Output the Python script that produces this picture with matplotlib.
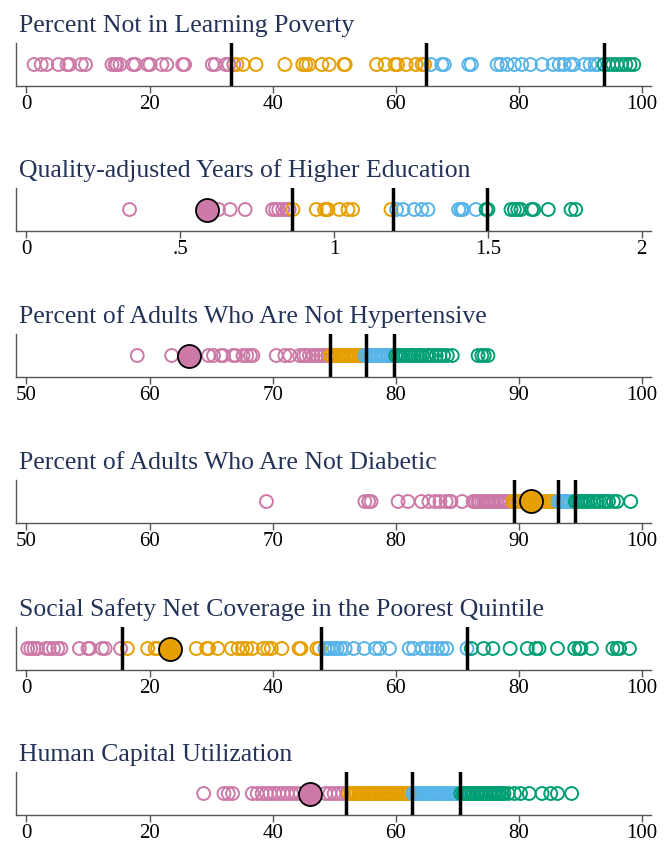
import matplotlib
matplotlib.use("Agg")
import matplotlib.pyplot as plt
import numpy as np

PINK, ORANGE, BLUE, GREEN = "#CC79A7", "#E69F00", "#56B4E9", "#009E73"
TITLE_COLOR = "#233257"

titles = [
    "Percent Not in Learning Poverty",
    "Quality-adjusted Years of Higher Education",
    "Percent of Adults Who Are Not Hypertensive",
    "Percent of Adults Who Are Not Diabetic",
    "Social Safety Net Coverage in the Poorest Quintile",
    "Human Capital Utilization",
]

# ---- Panel 1: Learning poverty
p1_pink = [1.25, 2.4, 3.3, 5.2, 6.6, 7.0, 8.9, 9.6, 13.9, 14.4, 14.7, 15.2, 17.3, 17.7,
           19.7, 20.1, 22.0, 22.8, 25.4, 25.7, 30.2, 30.7, 32.4, 32.9, 33.7]
p1_orange = [34.2, 35.2, 37.3, 42.0, 44.9, 45.4, 45.9, 48.0, 49.2, 51.6, 51.8, 56.9, 58.3,
             59.9, 60.3, 61.7, 63.3, 64.3, 64.7]
p1_blue = [65.7, 67.5, 67.9, 71.9, 72.3, 76.5, 77.1, 78.1, 79.3, 80.5, 81.9, 83.8, 85.6,
           86.6, 87.4, 88.4, 88.9, 90.7, 91.6, 92.4, 92.9]
p1_green = [93.9, 94.6, 95.3, 96.0, 96.7, 97.4, 98.1, 98.7]
p1_lines = [33.3, 65.0, 93.8]
p1_highlight = None

# ---- Panel 2: Quality-adjusted years of higher education
p2_pink = [0.335, 0.624, 0.662, 0.711, 0.80, 0.81, 0.82, 0.833, 0.847, 0.854]
p2_orange = [0.866, 0.942, 0.969, 0.976, 0.98, 1.017, 1.045, 1.06, 1.185]
p2_blue = [1.203, 1.224, 1.261, 1.285, 1.305, 1.405, 1.413, 1.419, 1.461]
p2_green = [1.494, 1.50, 1.575, 1.586, 1.597, 1.607, 1.642, 1.649, 1.696, 1.77, 1.785]
p2_lines = [0.864, 1.193, 1.497]
p2_highlight = (0.587, PINK)

# ---- Panel 3: Not hypertensive
p3_pink = [59.0, 61.8, 64.8, 65.2, 65.8, 66.0, 66.8, 67.0, 67.6, 67.9, 68.2, 68.4, 70.3,
           71.0, 71.4, 72.2, 72.5, 72.7, 73.0, 73.3, 73.6, 73.9, 74.2, 74.5]
p3_orange = [74.7, 74.8, 75.0, 75.1, 75.3, 75.5, 75.6, 75.8, 76.0, 76.1, 76.3, 76.5,
             76.6, 76.8, 77.0, 77.1, 77.3, 77.4]
p3_blue = [77.5, 77.6, 77.8, 77.9, 78.1, 78.3, 78.4, 78.6, 78.8, 78.9, 79.1, 79.3,
           79.4, 79.6, 79.8]
p3_green = [80.0, 80.2, 80.4, 80.6, 80.8, 81.1, 81.3, 81.5, 81.8, 82.0, 82.2, 82.5, 82.7,
            83.0, 83.3, 83.6, 83.9, 84.2, 84.6, 86.7, 87.0, 87.2, 87.5]
p3_lines = [74.7, 77.6, 79.9]
p3_highlight = (63.2, PINK)

# ---- Panel 4: Not diabetic
p4_pink = [69.5, 77.5, 77.8, 78.0, 80.2, 81.0, 82.1, 82.7, 83.2, 83.6, 84.1, 84.4, 84.5,
           85.4, 86.3, 86.5, 86.7, 86.8, 87.0, 87.2, 87.4, 87.6, 87.8, 88.0, 88.2, 88.4,
           88.6, 88.8, 89.0, 89.2]
p4_orange = [89.5, 89.7, 89.9, 90.1, 90.4, 90.6, 91.1, 91.4, 91.6, 91.8, 92.0, 92.2,
             92.4, 92.6, 92.8, 93.0]
p4_blue = [93.2, 93.4, 93.5, 93.7, 93.9, 94.0, 94.2, 94.4]
p4_green = [94.6, 94.8, 95.0, 95.2, 95.4, 95.6, 95.8, 96.1, 96.4, 96.6, 96.9, 97.1, 97.3,
            97.7, 98.0, 99.1]
p4_lines = [89.6, 93.2, 94.6]
p4_highlight = (91.0, ORANGE)

# ---- Panel 5: Social safety net coverage
p5_pink = [0.2, 0.7, 1.25, 1.8, 3.2, 3.7, 4.4, 5.1, 5.6, 8.6, 10.0, 10.3, 12.3, 12.8, 15.3]
p5_orange = [16.4, 19.7, 20.9, 21.3, 27.6, 29.3, 29.6, 31.1, 33.3, 34.4, 35.1, 35.8, 36.7,
             38.5, 39.2, 39.8, 41.5, 44.3, 44.6, 47.2, 47.6]
p5_blue = [48.5, 49.0, 49.5, 50.0, 50.5, 51.1, 51.8, 53.2, 54.9, 56.7, 57.4, 59.0, 62.2,
           62.9, 64.3, 65.0, 65.9, 66.8, 67.6, 68.3, 71.6]
p5_green = [72.3, 74.3, 75.8, 78.6, 81.4, 82.8, 83.3, 86.3, 89.1, 89.8, 90.1, 91.8, 95.3,
            96.0, 96.4, 98.0]
p5_lines = [15.5, 47.8, 71.6]
p5_highlight = (23.3, ORANGE)

# ---- Panel 6: Human capital utilization
p6_pink = [28.8, 32.1, 32.8, 33.5, 36.7, 37.5, 38.3, 39.0, 39.6, 40.3, 41.0, 41.7, 42.4,
           43.1, 43.8, 44.5, 48.6, 49.3, 50.0, 50.7, 51.4, 52.1]
p6_orange = [52.4, 52.8, 53.2, 53.6, 54.0, 54.3, 54.7, 55.1, 55.5, 55.9, 56.3, 56.6,
             57.0, 57.4, 57.8, 58.2, 58.6, 59.0, 59.3, 59.7, 60.1, 60.5, 60.9, 61.3,
             61.6, 62.0, 62.3]
p6_blue = [62.8, 63.2, 63.5, 63.9, 64.3, 64.6, 65.0, 65.4, 65.7, 66.1, 66.5, 66.8, 67.2,
           67.6, 67.9, 68.3, 68.7, 69.0, 69.4, 69.8, 70.2]
p6_green = [70.6, 71.0, 71.3, 71.7, 72.0, 72.4, 72.7, 73.1, 73.4, 73.8, 74.1, 74.5, 74.8,
            75.2, 75.5, 75.9, 76.2, 76.6, 76.9, 77.3, 77.6, 78.3, 79.3, 80.3, 81.7, 83.8,
            85.2, 86.3, 88.6]
p6_lines = [51.9, 62.6, 70.5]
p6_highlight = (46.0, PINK)

panels = [
    (p1_pink, p1_orange, p1_blue, p1_green, p1_lines, p1_highlight),
    (p2_pink, p2_orange, p2_blue, p2_green, p2_lines, p2_highlight),
    (p3_pink, p3_orange, p3_blue, p3_green, p3_lines, p3_highlight),
    (p4_pink, p4_orange, p4_blue, p4_green, p4_lines, p4_highlight),
    (p5_pink, p5_orange, p5_blue, p5_green, p5_lines, p5_highlight),
    (p6_pink, p6_orange, p6_blue, p6_green, p6_lines, p6_highlight),
]

xlims = [(-1.7, 101.5), (-0.034, 2.03), (49.15, 100.75), (49.15, 100.75),
         (-1.7, 101.5), (-1.7, 101.5)]
xticks = [[0, 20, 40, 60, 80, 100], [0, 0.5, 1, 1.5, 2], [50, 60, 70, 80, 90, 100],
          [50, 60, 70, 80, 90, 100], [0, 20, 40, 60, 80, 100], [0, 20, 40, 60, 80, 100]]
xticklabels = [["0", "20", "40", "60", "80", "100"], ["0", ".5", "1", "1.5", "2"],
               ["50", "60", "70", "80", "90", "100"], ["50", "60", "70", "80", "90", "100"],
               ["0", "20", "40", "60", "80", "100"], ["0", "20", "40", "60", "80", "100"]]

plt.rcParams["font.family"] = ["Liberation Serif", "DejaVu Serif"]

W, H = 671, 842
fig = plt.figure(figsize=(W / 100, H / 100), dpi=100)

ax_tops = [43, 188, 334, 480, 627, 772]
ax_h = 43
left_px, right_px = 16, 651

for i, (pk, orr, bl, gr, lines, hl) in enumerate(panels):
    top = ax_tops[i]
    ax = fig.add_axes([left_px / W, 1 - (top + ax_h) / H, (right_px - left_px) / W, ax_h / H])
    for vals, col in [(pk, PINK), (orr, ORANGE), (bl, BLUE), (gr, GREEN)]:
        ax.scatter(vals, np.zeros(len(vals)), s=86, facecolors="none", edgecolors=col,
                   linewidths=1.4, zorder=2)
    for v in lines:
        ax.axvline(v, color="black", lw=2.5, zorder=3)
    if hl is not None:
        ax.scatter([hl[0]], [0], s=275, facecolors=hl[1], edgecolors="black",
                   linewidths=1.3, zorder=4)
    ax.set_xlim(*xlims[i])
    ax.set_ylim(-1, 1)
    ax.set_yticks([])
    ax.set_xticks(xticks[i])
    ax.set_xticklabels(xticklabels[i], fontsize=15)
    for s in ["top", "right"]:
        ax.spines[s].set_visible(False)
    for s in ["left", "bottom"]:
        ax.spines[s].set_color("#555555")
        ax.spines[s].set_linewidth(1.0)
    ax.tick_params(axis="x", length=5, width=1, color="#555555", pad=1.5)
    ax.set_facecolor("white")
    fig.text(19 / W, 1 - (top - 11) / H, titles[i], fontsize=18.5, color=TITLE_COLOR,
             va="baseline", ha="left")

fig.savefig("out.png", dpi=100, facecolor="white")
